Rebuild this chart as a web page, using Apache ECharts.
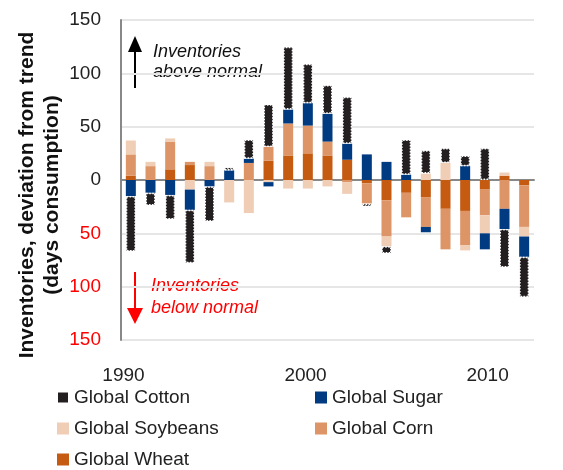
<!DOCTYPE html>
<html>
<head>
<meta charset="utf-8">
<script src="https://cdn.jsdelivr.net/npm/echarts@6/dist/echarts.min.js"></script>
<style>
html, body { margin: 0; padding: 0; background: #fff; }
#chartDiv { width: 563px; height: 470px; }
</style>
</head>
<body>
<div id="chartDiv"></div>
<script>
// 数据集 (days consumption, deviation from trend)
let years = ['1990', '1991', '1992', '1993', '1994', '1995', '1996', '1997', '1998', '1999', '2000',
	'2001', '2002', '2003', '2004', '2005', '2006', '2007', '2008', '2009', '2010'];
let wheat    = [4, 0, 10, 14, 0, 0, 0, 18, 23, 25, 23, 19, -3, -19, -12, -16, -27, -29, -9, 4, -5];
let corn     = [20, 13, 26, 3, 13, 0, 16, 13, 30, 26, 13, -2, -19, -34, -23, -28, -38, -32, -24, -27, -39];
let soybeans = [13, 4, 3, -9, 4, -21, -31, -2, -8, -8, -6, -11, 0, -9, 0, 6, 16, -5, -17, 3, -9];
let sugar    = [-15, -12, -14, -19, -6, 9, 4, -4, 13, 21, 26, 15, 24, 17, 5, -5, 0, 13, -15, -19, -19];
let cotton   = [-52, -12, -23, -50, -33, 3, 18, 40, 59, 37, 27, 44, -3, -7, 33, 22, 14, 10, 30, -36, -38];
let yearTicks = [1990, 2000, 2010];

let myChart = echarts.init(document.getElementById('chartDiv'));
let font = 'Liberation Sans, Arial, sans-serif';

function barSerie(name, data, color) {
	return {
		name: name,
		type: 'bar',
		stack: 'all',
		data: data,
		barWidth: 10,
		xAxisIndex: 0,
		itemStyle: {color: color},
		emphasis: {disabled: true}
	};
}

let cottonSerie = barSerie('Global Cotton', cotton, '#231f20');
cottonSerie.itemStyle.borderColor = '#ffffff';
cottonSerie.itemStyle.borderType = 'dotted';
cottonSerie.itemStyle.borderWidth = 1.5;

function legendBlock(left, names) {
	return {
		left: left, top: 388, orient: 'vertical', padding: 0, itemGap: 12,
		itemWidth: 12, itemHeight: 12, icon: 'rect',
		textStyle: {fontSize: 19, color: '#222'},
		data: names
	};
}

let option = {
	animation: false,
	backgroundColor: '#ffffff',
	textStyle: {fontFamily: font},
	grid: {left: 121, right: 29, top: 20, bottom: 130},
	legend: [
		legendBlock(56, ['Global Cotton', 'Global Soybeans', 'Global Wheat']),
		legendBlock(315, ['Global Sugar', 'Global Corn'])
	],
	xAxis: [{
		type: 'category',
		data: years,
		axisLine: {onZero: true, lineStyle: {color: '#888', width: 2}},
		axisTick: {show: false},
		axisLabel: {show: false}
	}, {
		type: 'value',
		position: 'bottom',
		min: 1989.863,
		max: 2012.55,
		axisLine: {show: false, onZero: false},
		axisTick: {show: false},
		splitLine: {show: false},
		axisLabel: {
			customValues: yearTicks,
			formatter: (v) => String(v),
			margin: 26,
			fontSize: 19,
			color: '#222'
		}
	}],
	yAxis: {
		type: 'value',
		min: -150,
		max: 150,
		interval: 50,
		axisLine: {show: true, lineStyle: {color: '#888', width: 2}},
		axisTick: {show: false},
		splitLine: {lineStyle: {color: '#e6e6e6', width: 2}},
		axisLabel: {
			margin: 20,
			formatter(v) {
				return v < 0 ? '{neg|' + (-v) + '}' : '{pos|' + v + '}';
			},
			rich: {
				pos: {fontSize: 19, color: '#222'},
				neg: {fontSize: 19, color: '#ff0000'}
			}
		}
	},
	series: [
		barSerie('Global Wheat', wheat, '#c55a11'),
		barSerie('Global Corn', corn, '#dd9567'),
		barSerie('Global Soybeans', soybeans, '#f0cdb5'),
		barSerie('Global Sugar', sugar, '#003a80'),
		cottonSerie
	],
	graphic: [
		// 纵轴标题
		{type: 'text', x: 40, y: 195, rotation: Math.PI / 2, style: {
			text: 'Inventories, deviation from trend\n(days consumption)', fill: '#111',
			font: 'bold 21px ' + font, lineHeight: 25, align: 'center', verticalAlign: 'middle'}},
		// 注释箭头
		{type: 'line', shape: {x1: 135, y1: 88, x2: 135, y2: 48}, style: {stroke: '#000', lineWidth: 2}},
		{type: 'polygon', shape: {points: [[135, 36], [128, 52], [142, 52]]}, style: {fill: '#000'}},
		{type: 'text', left: 153, top: 42, style: {text: 'Inventories\nabove normal', fill: '#111',
			font: 'italic 18px ' + font, lineHeight: 20}},
		{type: 'line', shape: {x1: 135, y1: 272, x2: 135, y2: 312}, style: {stroke: '#ff0000', lineWidth: 2}},
		{type: 'polygon', shape: {points: [[135, 324], [127, 308], [143, 308]]}, style: {fill: '#ff0000'}},
		{type: 'text', left: 151, top: 275, style: {text: 'Inventories\nbelow normal', fill: '#ff0000',
			font: 'italic 18px ' + font, lineHeight: 22}}
	]
};
myChart.setOption(option);
</script>
</body>
</html>
